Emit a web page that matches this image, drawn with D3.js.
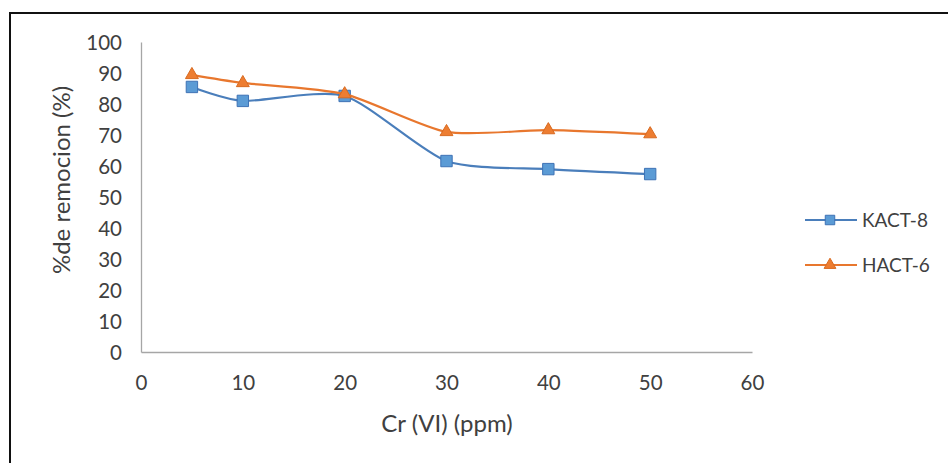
<!DOCTYPE html>
<html><head><meta charset="utf-8">
<script src="https://cdn.jsdelivr.net/npm/d3@7"></script>
<style>body{margin:0;background:#fff}svg{display:block}</style>
</head><body>
<svg id="c" width="948" height="463"></svg>
<script>
const xValues = [5, 10, 20, 30, 40, 50];
const kact8 = [85.5, 81, 82.6, 61.6, 59, 57.4];
const hact6 = [89.4, 86.8, 83.2, 71, 71.6, 70.3];
const seriesNames = ["KACT-8", "HACT-6"];
const xTicks = [0, 10, 20, 30, 40, 50, 60];
const yTicks = [0, 10, 20, 30, 40, 50, 60, 70, 80, 90, 100];

const svg = d3.select("#c");
const font = "Lato, 'Open Sans', sans-serif";
svg.append("rect").attr("x", 10).attr("y", 13).attr("width", 960).attr("height", 480)
  .attr("fill", "#fff").attr("stroke", "#111").attr("stroke-width", 2);

const x = d3.scaleLinear().domain([0, 60]).range([141, 752]);
const y = d3.scaleLinear().domain([0, 100]).range([352, 42]);

const xAxis = d3.axisBottom(x).tickValues(xTicks).tickSize(0).tickPadding(23);
const yAxis = d3.axisLeft(y).tickValues(yTicks).tickSize(0).tickPadding(19);

const gx = svg.append("g").attr("transform", `translate(0,${y(0)})`).call(xAxis);
const gy = svg.append("g").attr("transform", `translate(${x(0)},0)`).call(yAxis);
[gx, gy].forEach(g => {
  g.select(".domain").attr("stroke", "#a6a6a6").attr("stroke-width", 1.3);
  g.selectAll("text").attr("font-family", font).attr("font-size", 20.5).attr("fill", "#404040");
});
gy.selectAll("text").attr("dy", "0.35em");

svg.append("text").attr("x", 447).attr("y", 432).attr("text-anchor", "middle")
  .attr("font-family", font).attr("font-size", 24).attr("fill", "#404040").text("Cr (VI) (ppm)");
svg.append("text").attr("transform", "translate(70,180) rotate(-90)").attr("text-anchor", "middle")
  .attr("font-family", font).attr("font-size", 24).attr("fill", "#404040").text("%de remocion (%)");

const series = [
  {name: seriesNames[0], vals: kact8, line: "#4a7ebb", fill: "#5b9bd5", stroke: "#3e72b5", shape: d3.symbolSquare},
  {name: seriesNames[1], vals: hact6, line: "#e8772e", fill: "#ed7d31", stroke: "#d86a20", shape: d3.symbolTriangle}
];
const line = d3.line().x(d => x(d[0])).y(d => y(d[1])).curve(d3.curveCardinal.tension(0.3));

series.forEach((s, i) => {
  const pts = xValues.map((v, j) => [v, s.vals[j]]);
  svg.append("path").attr("d", line(pts)).attr("fill", "none").attr("stroke", s.line).attr("stroke-width", 2.2);
  svg.selectAll(null).data(pts).enter().append("path")
    .attr("d", d3.symbol().type(s.shape).size(i === 0 ? 130 : 72))
    .attr("transform", d => `translate(${x(d[0])},${y(d[1])})`)
    .attr("fill", s.fill).attr("stroke", s.stroke).attr("stroke-width", 1);
  const ly = 220 + i * 45;
  svg.append("line").attr("x1", 805).attr("x2", 857).attr("y1", ly).attr("y2", ly)
    .attr("stroke", s.line).attr("stroke-width", 2.2);
  svg.append("path").attr("d", d3.symbol().type(s.shape).size(i === 0 ? 90 : 60))
    .attr("transform", `translate(830,${ly})`).attr("fill", s.fill).attr("stroke", s.stroke).attr("stroke-width", 1);
  svg.append("text").attr("x", 862).attr("y", ly).attr("dy", "0.35em")
    .attr("font-family", font).attr("font-size", 19).attr("fill", "#404040").text(s.name);
});
</script>
</body></html>
